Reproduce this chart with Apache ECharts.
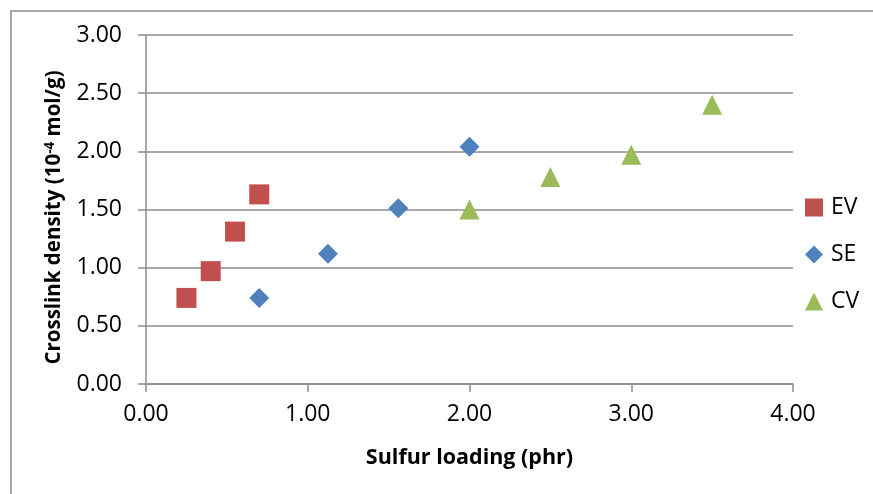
<!DOCTYPE html>
<html>
<head>
<meta charset="utf-8">
<script src="https://cdn.jsdelivr.net/npm/echarts@6/dist/echarts.min.js"></script>
<style>
  html, body { margin: 0; padding: 0; background: #fff; }
  #chart { width: 873px; height: 494px; }
</style>
</head>
<body>
<div id="chart"></div>
<script>
// Crosslink density versus sulfur loading for three cure systems
const seriesNames = ['EV', 'SE', 'CV'];
const evSulfur = [0.25, 0.40, 0.55, 0.70];
const evDensity = [0.74, 0.97, 1.31, 1.63];
const seSulfur = [0.70, 1.125, 1.56, 2.00];
const seDensity = [0.74, 1.12, 1.51, 2.04];
const cvSulfur = [2.00, 2.50, 3.00, 3.50];
const cvDensity = [1.50, 1.78, 1.97, 2.40];

const colors = ['#C0504D', '#4F81BD', '#9BBB59'];
const symbols = ['rect', 'diamond', 'triangle'];
const font = '"Open Sans", "DejaVu Sans", sans-serif';

function pairs(xs, ys) {
  return xs.map((x, i) => [x, ys[i]]);
}
const seriesData = [
  pairs(evSulfur, evDensity),
  pairs(seSulfur, seDensity),
  pairs(cvSulfur, cvDensity)
];

const chart = echarts.init(document.getElementById('chart'), null, { renderer: 'canvas' });

const axisGray = '#8c8c8c';

chart.setOption({
  backgroundColor: '#fff',
  animation: false,
  graphic: [{
    type: 'rect',
    shape: { x: 11, y: 11, width: 900, height: 600 },
    style: { fill: 'none', stroke: axisGray, lineWidth: 1.5 },
    silent: true
  }],
  grid: { left: 146, right: 80, top: 35, bottom: 110 },
  legend: {
    orient: 'vertical',
    left: 800,
    top: 191,
    itemWidth: 18,
    itemHeight: 18,
    itemGap: 24,
    textStyle: { fontFamily: font, fontSize: 23, color: '#000', padding: [0, 0, 0, 3] },
    data: seriesNames.map((n, i) => ({ name: n, icon: symbols[i] }))
  },
  xAxis: {
    type: 'value',
    min: 0, max: 4, interval: 1,
    name: 'Sulfur loading (phr)',
    nameLocation: 'middle',
    nameGap: 63,
    nameTextStyle: { fontFamily: font, fontSize: 21.5, fontWeight: 'bold', color: '#000' },
    axisLine: { show: true, onZero: false, lineStyle: { color: axisGray, width: 1.5 } },
    axisTick: { show: true, length: 8, lineStyle: { color: axisGray, width: 1.5 } },
    axisLabel: { fontFamily: font, fontSize: 23, color: '#000', margin: 19,
      formatter: v => v.toFixed(2) },
    splitLine: { show: false }
  },
  yAxis: {
    type: 'value',
    min: 0, max: 3, interval: 0.5,
    name: '{b|Crosslink density (10}{s|-4}{b| mol/g)}',
    nameLocation: 'middle',
    nameGap: 81,
    nameRotate: 90,
    nameTextStyle: {
      fontFamily: font, fontSize: 20.5, fontWeight: 'bold', color: '#000',
      padding: [0, 16, 0, 0],
      rich: {
        b: { fontFamily: font, fontSize: 20.5, fontWeight: 'bold', color: '#000' },
        s: { fontFamily: font, fontSize: 13.5, fontWeight: 'bold', color: '#000', verticalAlign: 'top', padding: [0, 0, 8, 0] }
      }
    },
    axisLine: { show: true, lineStyle: { color: axisGray, width: 1.5 } },
    axisTick: { show: true, length: 8, lineStyle: { color: axisGray, width: 1.5 } },
    axisLabel: { fontFamily: font, fontSize: 23, color: '#000', margin: 24,
      formatter: v => v.toFixed(2) },
    splitLine: { show: true, lineStyle: { color: axisGray, width: 1.5 } }
  },
  series: seriesNames.map((n, i) => ({
    name: n,
    type: 'scatter',
    symbol: symbols[i],
    symbolSize: 20,
    itemStyle: { color: colors[i], opacity: 1 },
    data: seriesData[i]
  }))
});
</script>
</body>
</html>
